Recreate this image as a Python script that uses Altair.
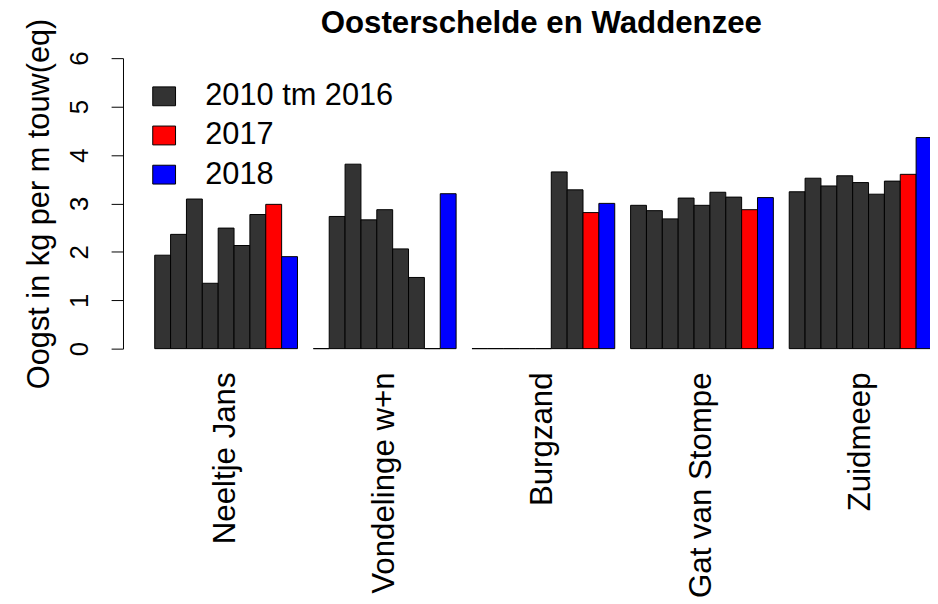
import altair as alt
import pandas as pd

# ---- data ----
locations = ["Neeltje Jans", "Vondelinge w+n", "Burgzand", "Gat van Stompe", "Zuidmeep"]
years = ["2010", "2011", "2012", "2013", "2014", "2015", "2016", "2017", "2018"]
periods = ["2010 tm 2016"] * 7 + ["2017", "2018"]

neeltje_jans = [1.93, 2.36, 3.09, 1.35, 2.49, 2.13, 2.77, 2.98, 1.90]
vondelinge = [0.0, 2.73, 3.81, 2.66, 2.87, 2.06, 1.47, 0.0, 3.20]
burgzand = [0.0, 0.0, 0.0, 0.0, 0.0, 3.65, 3.28, 2.81, 3.00]
gat_van_stompe = [2.96, 2.85, 2.68, 3.11, 2.96, 3.23, 3.13, 2.87, 3.12]
zuidmeep = [3.24, 3.52, 3.36, 3.57, 3.43, 3.19, 3.46, 3.60, 4.36]

series = [neeltje_jans, vondelinge, burgzand, gat_van_stompe, zuidmeep]
legend_labels = ["2010 tm 2016", "2017", "2018"]
legend_colors = ["#333333", "#ff0000", "#0000ff"]
chart_title = "Oosterschelde en Waddenzee"

rows = []
for loc, vals in zip(locations, series):
    for yr, per, v in zip(years, periods, vals):
        rows.append({"loc": loc, "year": yr, "period": per, "value": v})
df = pd.DataFrame(rows)
labels_df = pd.DataFrame({"loc": locations})
title_df = pd.DataFrame({"title": [chart_title]})

FONT = "Liberation Sans"

xscale = alt.Scale(domain=locations, paddingInner=0.1, paddingOuter=0.2, range=[0, 848])

bars = alt.Chart(df).mark_bar(stroke="black", strokeWidth=1, opacity=1).encode(
    x=alt.X("loc:N", scale=xscale, axis=None),
    xOffset=alt.XOffset("year:N", scale=alt.Scale(domain=years, paddingInner=0, paddingOuter=0)),
    y=alt.Y(
        "value:Q",
        scale=alt.Scale(domain=[0, 6], nice=False, zero=True),
        axis=alt.Axis(
            values=[0, 1, 2, 3, 4, 5, 6],
            tickSize=12,
            tickColor="black",
            domainColor="black",
            grid=False,
            labelAngle=270,
            labelAlign="center",
            labelBaseline="alphabetic",
            labelPadding=24,
            labelFontSize=26,
            labelFont=FONT,
            labelColor="black",
            title="Oogst in kg per m touw(eq)",
            titleFont=FONT,
            titleFontSize=31,
            titleFontWeight="normal",
            titleColor="black",
            titleAngle=270,
            titleAlign="center",
            titleBaseline="alphabetic",
            titleX=-75,
            titleY=146.5,
        ),
    ),
    color=alt.Color(
        "period:N",
        scale=alt.Scale(domain=legend_labels, range=legend_colors),
        legend=alt.Legend(
            orient="none",
            legendX=26,
            legendY=23,
            title=None,
            padding=0,
            symbolType="M-1.21,-1H1.21V1H-1.21Z",
            symbolSize=361,
            symbolStrokeColor="black",
            symbolStrokeWidth=1,
            symbolOpacity=1,
            labelFont=FONT,
            labelFontSize=31,
            labelColor="black",
            labelOffset=26,
            labelLimit=500,
            rowPadding=7.5,
        ),
    ),
)

labels = alt.Chart(labels_df).mark_text(
    angle=270, align="right", baseline="middle", font=FONT, fontSize=31.5, color="black"
).encode(
    x=alt.X("loc:N", scale=xscale, axis=None),
    y=alt.value(317),
    text="loc:N",
)

title = alt.Chart(title_df).mark_text(
    align="center", baseline="alphabetic", font=FONT, fontSize=31.5, fontWeight="bold", color="black"
).encode(
    x=alt.value(422),
    y=alt.value(-25),
    text="title:N",
)

chart = alt.layer(bars, labels, title).properties(
    width=814,
    height=293,
    autosize=alt.AutoSizeParams(type="none"),
    padding={"left": 116, "top": 48, "right": 0, "bottom": 255},
).configure(background="white").configure_view(stroke=None)

chart.save("out.html", embed_options={"renderer": "svg", "actions": False})
